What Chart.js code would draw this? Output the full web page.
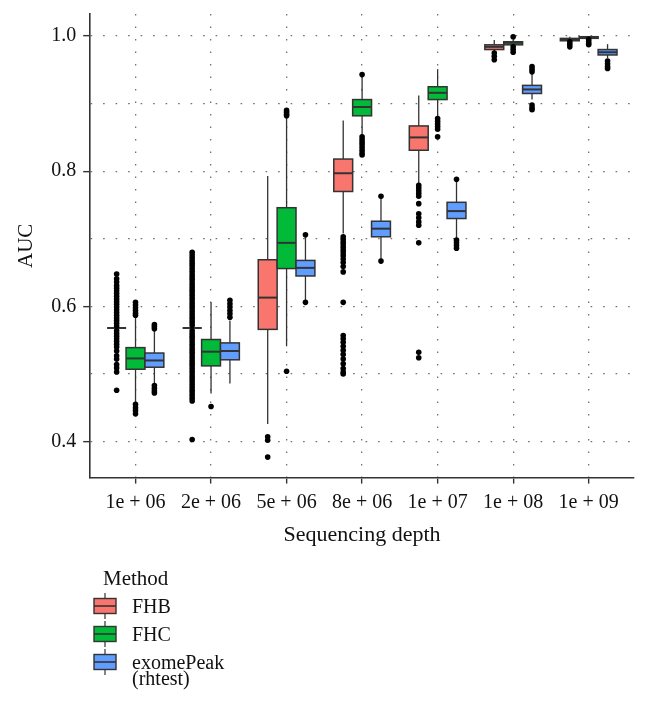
<!DOCTYPE html>
<html>
<head>
<meta charset="utf-8">
<script src="https://cdn.jsdelivr.net/npm/chart.js@4.4.1/dist/chart.umd.min.js"></script>
<style>
  html, body { margin: 0; padding: 0; background: #fff; }
</style>
</head>
<body>
<canvas id="chart" width="648" height="703"></canvas>
<script>
// categories on the x axis
var categories = ['1e + 06', '2e + 06', '5e + 06', '8e + 06', '1e + 07', '1e + 08', '1e + 09'];
var methods = ['FHB', 'FHC', 'exomePeak (rhtest)'];
var legendLines = [['FHB'], ['FHC'], ['exomePeak', '(rhtest)']];
var colors = ['#F8766D', '#00BA38', '#619CFF'];

var yTickLabels = [0.4, 0.6, 0.8, 1.0];
var yGridValues = [0.4, 0.5, 0.6, 0.7, 0.8, 0.9, 1.0];

// FHB box stats
var fhbLow  = [0.568, 0.568, 0.426, 0.708, 0.782, 0.978, 0.991];
var fhbQ1   = [0.568, 0.568, 0.566, 0.770, 0.831, 0.980, 0.993];
var fhbMed  = [0.568, 0.568, 0.613, 0.797, 0.850, 0.984, 0.9945];
var fhbQ3   = [0.568, 0.568, 0.669, 0.818, 0.867, 0.987, 0.9965];
var fhbHigh = [0.568, 0.568, 0.793, 0.875, 0.912, 0.994, 0.999];
var fhbOut = [
  [0.648, 0.641, 0.636, 0.631, 0.627, 0.623, 0.619, 0.615, 0.611, 0.607, 0.603, 0.599, 0.595, 0.591,
   0.587, 0.583, 0.579, 0.575, 0.571, 0.564, 0.560, 0.556, 0.552, 0.548, 0.544, 0.540, 0.534, 0.527,
   0.522, 0.514, 0.509, 0.503, 0.476],
  [0.680, 0.676, 0.672, 0.668, 0.664, 0.660, 0.656, 0.652, 0.648, 0.644, 0.640, 0.636, 0.632, 0.628,
   0.624, 0.620, 0.616, 0.612, 0.608, 0.604, 0.600, 0.596, 0.592, 0.588, 0.584, 0.580, 0.576, 0.572,
   0.564, 0.560, 0.556, 0.552, 0.548, 0.544, 0.540, 0.536, 0.532, 0.528, 0.524, 0.520, 0.516, 0.512,
   0.508, 0.504, 0.500, 0.496, 0.492, 0.488, 0.484, 0.480, 0.476, 0.472, 0.468, 0.464, 0.460, 0.403],
  [0.407, 0.402, 0.377],
  [0.703, 0.699, 0.695, 0.691, 0.687, 0.683, 0.679, 0.675, 0.670, 0.665, 0.659, 0.651, 0.606,
   0.557, 0.552, 0.547, 0.541, 0.535, 0.529, 0.522, 0.515, 0.508, 0.503, 0.500],
  [0.779, 0.775, 0.771, 0.767, 0.763, 0.752, 0.737, 0.731, 0.725, 0.720, 0.694, 0.532, 0.524],
  [0.975, 0.970, 0.965],
  [0.9915, 0.988, 0.984]
];

// FHC box stats
var fhcLow  = [0.458, 0.471, 0.541, 0.852, 0.880, 0.985, 0.995];
var fhcQ1   = [0.507, 0.512, 0.656, 0.882, 0.906, 0.987, 0.9966];
var fhcMed  = [0.523, 0.533, 0.694, 0.895, 0.916, 0.990, 0.998];
var fhcQ3   = [0.539, 0.551, 0.746, 0.906, 0.925, 0.9915, 0.999];
var fhcHigh = [0.584, 0.606, 0.880, 0.943, 0.951, 0.995, 1.000];
var fhcOut = [
  [0.606, 0.602, 0.598, 0.594, 0.590, 0.587, 0.455, 0.450, 0.446, 0.441],
  [0.452],
  [0.890, 0.887, 0.884, 0.882, 0.504],
  [0.943, 0.851, 0.847, 0.843, 0.839, 0.835, 0.831, 0.827, 0.824],
  [0.878, 0.874, 0.870, 0.866, 0.862, 0.851],
  [0.999, 0.984, 0.980, 0.976],
  [0.995, 0.992, 0.989, 0.987]
];

// exomePeak (rhtest) box stats
var expLow  = [0.486, 0.486, 0.606, 0.667, 0.698, 0.906, 0.967];
var expQ1   = [0.510, 0.521, 0.645, 0.703, 0.730, 0.915, 0.972];
var expMed  = [0.520, 0.534, 0.657, 0.715, 0.741, 0.921, 0.976];
var expQ3   = [0.531, 0.546, 0.668, 0.726, 0.754, 0.927, 0.980];
var expHigh = [0.564, 0.579, 0.705, 0.763, 0.788, 0.945, 0.988];
var expOut = [
  [0.573, 0.570, 0.567, 0.483, 0.479, 0.475, 0.472],
  [0.609, 0.604, 0.599, 0.594, 0.589, 0.584],
  [0.706, 0.606],
  [0.763, 0.667],
  [0.788, 0.698, 0.694, 0.690, 0.686],
  [0.955, 0.951, 0.947, 0.898, 0.894, 0.891],
  [0.963, 0.959, 0.955, 0.952]
];

var stats = [
  { low: fhbLow, q1: fhbQ1, med: fhbMed, q3: fhbQ3, high: fhbHigh, out: fhbOut },
  { low: fhcLow, q1: fhcQ1, med: fhcMed, q3: fhcQ3, high: fhcHigh, out: fhcOut },
  { low: expLow, q1: expQ1, med: expMed, q3: expQ3, high: expHigh, out: expOut }
];
var dodge = [-0.25, 0, 0.25];
var boxWidth = 0.25;
var lineColor = '#333333';
var serif = "'Liberation Serif', 'DejaVu Serif', serif";

// outlier points as scatter datasets
var datasets = stats.map(function (s, m) {
  var pts = [];
  s.out.forEach(function (vals, i) {
    vals.forEach(function (v) { pts.push({ x: i + dodge[m], y: v }); });
  });
  return {
    label: methods[m],
    data: pts,
    pointRadius: 2.8,
    pointHoverRadius: 2.8,
    pointBackgroundColor: '#000',
    pointBorderWidth: 0,
    showLine: false
  };
});

function line(ctx, x1, y1, x2, y2) {
  ctx.beginPath();
  ctx.moveTo(x1, y1);
  ctx.lineTo(x2, y2);
  ctx.stroke();
}

var boxPlugin = {
  id: 'boxes',
  beforeDatasetsDraw: function (chart) {
    var ctx = chart.ctx, xs = chart.scales.x, ys = chart.scales.y;
    ctx.save();
    ctx.strokeStyle = lineColor;
    stats.forEach(function (s, m) {
      for (var i = 0; i < categories.length; i++) {
        var c = i + dodge[m];
        var xl = xs.getPixelForValue(c - boxWidth / 2);
        var xr = xs.getPixelForValue(c + boxWidth / 2);
        var xm = xs.getPixelForValue(c);
        var yLow = ys.getPixelForValue(s.low[i]);
        var yQ1 = ys.getPixelForValue(s.q1[i]);
        var yMed = ys.getPixelForValue(s.med[i]);
        var yQ3 = ys.getPixelForValue(s.q3[i]);
        var yHigh = ys.getPixelForValue(s.high[i]);
        ctx.lineWidth = 1.3;
        line(ctx, xm, yHigh, xm, yQ3);
        line(ctx, xm, yQ1, xm, yLow);
        ctx.fillStyle = colors[m];
        ctx.fillRect(xl, yQ3, xr - xl, yQ1 - yQ3);
        ctx.lineWidth = 1.5;
        ctx.strokeRect(xl, yQ3, xr - xl, yQ1 - yQ3);
        ctx.lineWidth = 2;
        line(ctx, xl, yMed, xr, yMed);
      }
    });
    ctx.restore();
  },
  afterDraw: function (chart) {
    // legend: Method
    var ctx = chart.ctx;
    ctx.save();
    ctx.fillStyle = '#111';
    ctx.textBaseline = 'alphabetic';
    ctx.font = '21px ' + serif;
    ctx.fillText('Method', 103, 585);
    var keyY = [606, 634, 662];
    ctx.font = '20px ' + serif;
    for (var m = 0; m < methods.length; m++) {
      var cy = keyY[m];
      ctx.strokeStyle = lineColor;
      ctx.lineWidth = 1.2;
      line(ctx, 105, cy - 13, 105, cy + 13);
      ctx.fillStyle = colors[m];
      ctx.fillRect(94, cy - 7.5, 22, 15);
      ctx.lineWidth = 1.4;
      ctx.strokeRect(94, cy - 7.5, 22, 15);
      ctx.lineWidth = 1.6;
      line(ctx, 94, cy, 116, cy);
      ctx.fillStyle = '#111';
      legendLines[m].forEach(function (t, k) {
        ctx.fillText(t, 132, cy + 7 + k * 16);
      });
    }
    ctx.restore();
  }
};

var gridDash = [1.6, 10.9];

new Chart(document.getElementById('chart').getContext('2d'), {
  type: 'scatter',
  data: { datasets: datasets },
  plugins: [boxPlugin],
  options: {
    responsive: false,
    animation: false,
    devicePixelRatio: 1,
    layout: { padding: { left: 8, right: 14, top: 14, bottom: 155 } },
    plugins: { legend: { display: false }, tooltip: { enabled: false } },
    font: { family: serif },
    scales: {
      x: {
        type: 'linear',
        min: -0.6,
        max: 6.6,
        afterBuildTicks: function (axis) {
          axis.ticks = categories.map(function (c, i) { return { value: i }; });
        },
        ticks: {
          autoSkip: false,
          maxRotation: 0,
          padding: 7,
          color: '#111',
          font: { family: serif, size: 20 },
          callback: function (v) { return categories[v]; }
        },
        grid: {
          color: '#707070',
          lineWidth: 1.3,
          tickColor: lineColor,
          tickLength: 6,
          tickWidth: 1.4,
          tickBorderDash: []
        },
        border: { display: true, color: lineColor, width: 1.6, dash: gridDash },
        title: {
          display: true,
          text: 'Sequencing depth',
          color: '#111',
          font: { family: serif, size: 22 },
          padding: { top: 0, bottom: 0 }
        }
      },
      y: {
        type: 'linear',
        min: 0.3467,
        max: 1.0326,
        afterBuildTicks: function (axis) {
          axis.ticks = yGridValues.map(function (v) { return { value: v }; });
        },
        ticks: {
          padding: 7,
          color: '#111',
          font: { family: serif, size: 20, lineHeight: 0.6 },
          callback: function (v) {
            return yTickLabels.some(function (t) { return Math.abs(t - v) < 1e-6; }) ? v.toFixed(1) : '';
          }
        },
        grid: {
          color: '#707070',
          lineWidth: 1.3,
          tickColor: function (c) {
            var v = c.tick ? c.tick.value : null;
            return yTickLabels.some(function (t) { return Math.abs(t - v) < 1e-6; }) ? lineColor : 'rgba(0,0,0,0)';
          },
          tickLength: 7,
          tickWidth: 1.4,
          tickBorderDash: []
        },
        border: { display: true, color: lineColor, width: 1.6, dash: gridDash },
        title: {
          display: true,
          text: 'AUC',
          color: '#111',
          font: { family: serif, size: 21 },
          padding: { top: 6, bottom: 5 }
        }
      }
    }
  }
});
</script>
</body>
</html>
